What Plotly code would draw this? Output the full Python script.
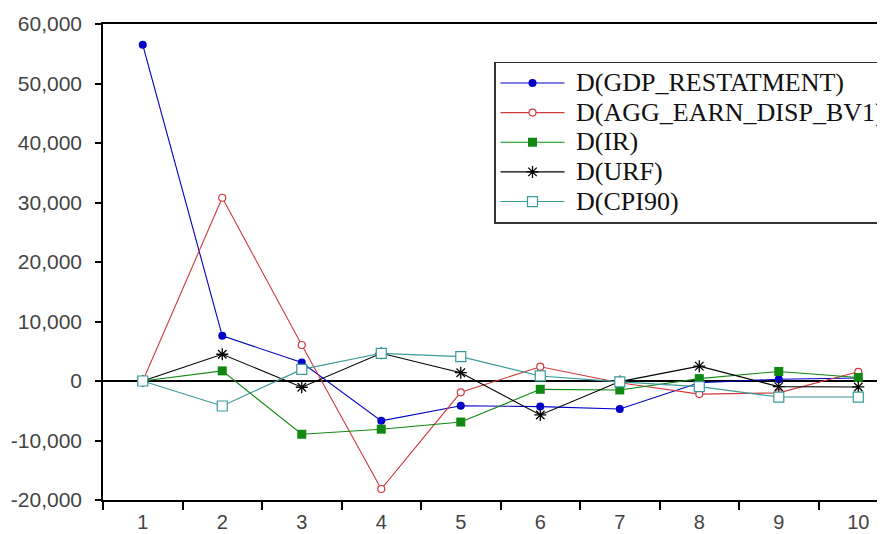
import plotly.graph_objects as go

periods = ["1", "2", "3", "4", "5", "6", "7", "8", "9", "10"]
gdp_restatment = [56500, 7600, 3100, -6700, -4150, -4300, -4700, -300, 300, 500]
agg_earn_disp_bv1 = [0, 30800, 6050, -18150, -1900, 2400, -300, -2200, -2000, 1550]
ir = [0, 1700, -8950, -8100, -6900, -1400, -1500, 400, 1600, 600]
urf = [0, 4500, -1050, 4650, 1400, -5700, -100, 2500, -950, -1000]
cpi90 = [0, -4200, 1950, 4650, 4100, 850, -150, -950, -2700, -2700]

y_tick_values = [-20000, -10000, 0, 10000, 20000, 30000, 40000, 50000, 60000]
y_tick_labels = ["-20,000", "-10,000", "0", "10,000", "20,000", "30,000", "40,000", "50,000", "60,000"]

series = [
    ("D(GDP_RESTATMENT)", gdp_restatment, "#0000C8",
     dict(symbol="circle", size=8, color="#0000C8")),
    ("D(AGG_EARN_DISP_BV1)", agg_earn_disp_bv1, "#D03A3A",
     dict(symbol="circle", size=7, color="white", line=dict(color="#D03A3A", width=1.2))),
    ("D(IR)", ir, "#118811",
     dict(symbol="square", size=9, color="#118811")),
    ("D(URF)", urf, "#000000",
     dict(symbol="asterisk-open", size=10, color="#000000", line=dict(color="#000000", width=1.3))),
    ("D(CPI90)", cpi90, "#3A9A9A",
     dict(symbol="square", size=10, color="white", line=dict(color="#3A9A9A", width=1.2))),
]

fig = go.Figure()
for name, vals, col, mk in series:
    fig.add_trace(go.Scatter(
        x=periods, y=vals, mode="lines+markers",
        name="<span style='font-size:26px'>&nbsp;" + name + "</span>",
        line=dict(color=col, width=1.1), marker=mk))

fig.update_layout(
    width=877, height=526,
    margin=dict(l=95, r=0, t=16, b=34, autoexpand=False),
    paper_bgcolor="white", plot_bgcolor="white",
    showlegend=True,
    legend=dict(x=0.5, y=0.921, xanchor="left", yanchor="top",
                bgcolor="white", bordercolor="#333333", borderwidth=1.5,
                font=dict(family="Times New Roman, Liberation Serif, serif", size=20.5, color="#111111"),
                itemwidth=64, tracegroupgap=0),
    font=dict(family="Liberation Sans", size=21, color="#444444"),
)
fig.update_xaxes(type="category", range=[-0.5, 9.336], tickson="boundaries",
                 ticks="outside", ticklen=8, tickcolor="black", tickwidth=1.5,
                 ticklabelstandoff=3, tickfont=dict(size=20),
                 showline=True, linecolor="black", linewidth=1.5, mirror=True,
                 showgrid=False, zeroline=False)
fig.update_yaxes(range=[-20000, 60000], tickvals=y_tick_values, ticktext=y_tick_labels,
                 ticks="outside", ticklen=6, tickcolor="black", tickwidth=1.5,
                 ticklabelstandoff=9,
                 showline=True, linecolor="black", linewidth=1.5,
                 showgrid=False, zeroline=True, zerolinecolor="black", zerolinewidth=1.5)

fig.write_html("out.html")
